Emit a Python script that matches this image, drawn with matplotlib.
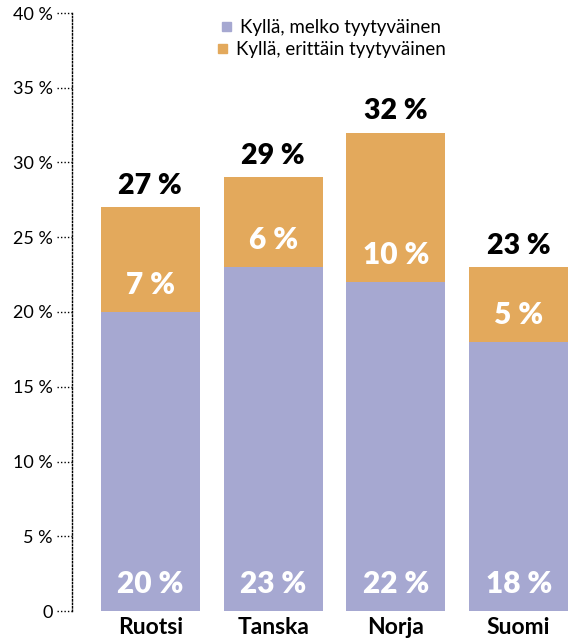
import matplotlib
matplotlib.use("Agg")
from matplotlib import pyplot as plt
from matplotlib.patches import Rectangle
import matplotlib.transforms as mtransforms

maat = ["Ruotsi", "Tanska", "Norja", "Suomi"]
melko = [20, 23, 22, 18]
erittain = [7, 6, 10, 5]
yticks = [0, 5, 10, 15, 20, 25, 30, 35, 40]
ytick_labels = ["0" if v == 0 else f"{v} %" for v in yticks]

purple = "#a6a8d1"
orange = "#e3a95c"

plt.rcParams['font.family'] = ['Lato', 'DejaVu Sans']

fig = plt.figure(figsize=(5.75, 6.4), dpi=100)
ax = fig.add_axes([72 / 575, 29 / 640, 503 / 575, 598 / 640])

x = list(range(len(maat)))
ax.bar(x, melko, width=0.805, color=purple)
ax.bar(x, erittain, width=0.805, bottom=melko, color=orange)

# arvot pylväiden sisään ja päälle
for i in x:
    ax.annotate(f"{melko[i]} %", (i, 0), xytext=(0, 13), textcoords="offset points",
                ha="center", va="baseline", color="white", fontsize=21.5, fontweight="heavy")
    ax.annotate(f"{erittain[i]} %", (i, melko[i]), xytext=(0, 13), textcoords="offset points",
                ha="center", va="baseline", color="white", fontsize=21.5, fontweight="heavy")
    ax.annotate(f"{melko[i] + erittain[i]} %", (i, melko[i] + erittain[i]), xytext=(0, 9.5),
                textcoords="offset points", ha="center", va="baseline", color="black",
                fontsize=20.5, fontweight="heavy")

ax.set_xlim(-0.638, 3.459)
ax.set_ylim(0, 40)
ax.set_xticks(x)
ax.set_xticklabels(maat, fontsize=16.5, fontweight="bold")
ax.set_yticks(yticks)
ax.set_yticklabels(ytick_labels, fontsize=13)
ax.tick_params(axis="y", length=0, pad=14)
ax.tick_params(axis="x", length=0, pad=4)

for s in ["top", "right", "bottom"]:
    ax.spines[s].set_visible(False)
ax.spines["left"].set_linestyle((0, (1, 1.5)))
ax.spines["left"].set_linewidth(1)

# pisteviivat y-akselin merkeille
trans = mtransforms.blended_transform_factory(ax.transAxes, ax.transData)
for v in yticks:
    ax.plot([-15 / 503, 0], [v, v], transform=trans, color="black", lw=1,
            linestyle=(0, (1, 1.5)), clip_on=False)

# selite
fig.patches.append(Rectangle((222 / 575, 1 - 31 / 640), 9 / 575, 9 / 640,
                             transform=fig.transFigure, color=purple))
fig.text(240 / 575, 1 - 27 / 640, "Kyllä, melko tyytyväinen", fontsize=13.5, va="center")
fig.patches.append(Rectangle((218 / 575, 1 - 53 / 640), 9 / 575, 9 / 640,
                             transform=fig.transFigure, color=orange))
fig.text(236 / 575, 1 - 49 / 640, "Kyllä, erittäin tyytyväinen", fontsize=13.5, va="center")

fig.savefig("out.png", dpi=100)
